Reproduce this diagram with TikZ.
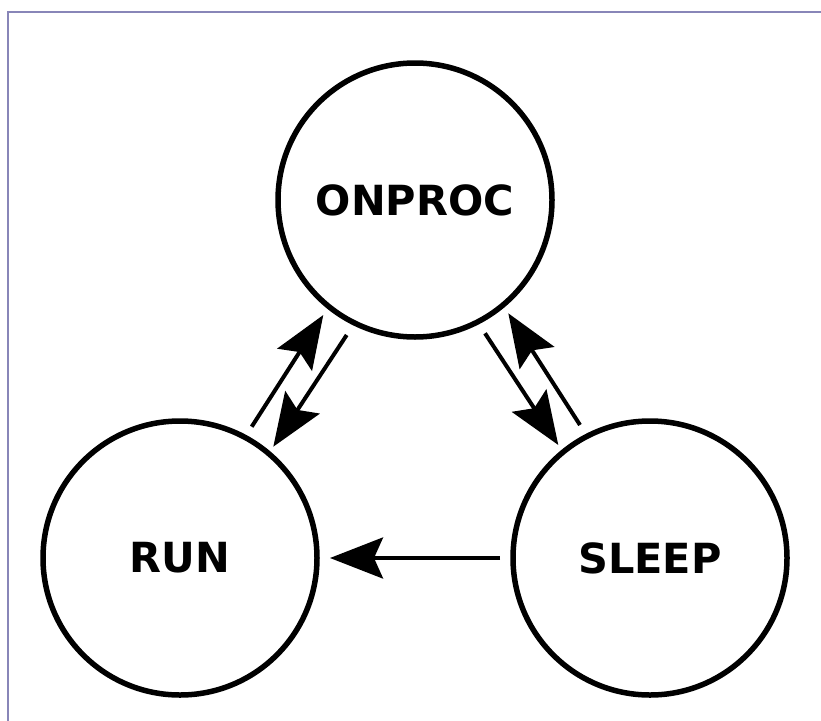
\documentclass[tikz,border=0pt]{standalone}
\usepackage{fontspec}
\newfontfamily\statefont{DejaVu Sans Bold}
\usetikzlibrary{arrows.meta}
\definecolor{framecol}{RGB}{136,134,184}
\tikzset{
  state/.style={circle, draw=black, line width=5.5pt, minimum size=274pt,
    inner sep=0pt, outer sep=0pt, font=\statefont\fontsize{41.5}{48}\selectfont},
  trans/.style={draw=black, line width=4pt,
    -{Stealth[length=53pt,width=41pt,inset=9pt]}},
  framel/.style={draw=framecol, line width=2pt}
}
\begin{document}
\begin{tikzpicture}[x=1pt,y=-1pt]
\useasboundingbox (0,0) rectangle (821,720);
\fill[white] (0,0) rectangle (821,720);
% frame (only top and left edges visible)
\coordinate (fbl) at (7.5,722);
\coordinate (ftl) at (7.5,12);
\coordinate (ftr) at (823,12);
\draw[framel] (fbl) -- (ftl) -- (ftr);
% states
\node[state] (onproc) at (415,200) {ONPROC};
\node[state] (run) at (180,558) {RUN};
\node[state] (sleep) at (650,558) {SLEEP};
% arrow end points
\coordinate (a1s) at (251.7,426.7);
\coordinate (a1e) at (323.3,315);
\coordinate (a2s) at (346.7,335);
\coordinate (a2e) at (273.3,446.7);
\coordinate (a3s) at (485,333.3);
\coordinate (a3e) at (558.3,445);
\coordinate (a4s) at (580,425);
\coordinate (a4e) at (508.3,313.3);
\coordinate (a5s) at (500,558);
\coordinate (a5e) at (330,558);
% transitions
\draw[trans] (a1s) -- (a1e);
\draw[trans] (a2s) -- (a2e);
\draw[trans] (a3s) -- (a3e);
\draw[trans] (a4s) -- (a4e);
\draw[trans] (a5s) -- (a5e);
\end{tikzpicture}
\end{document}
